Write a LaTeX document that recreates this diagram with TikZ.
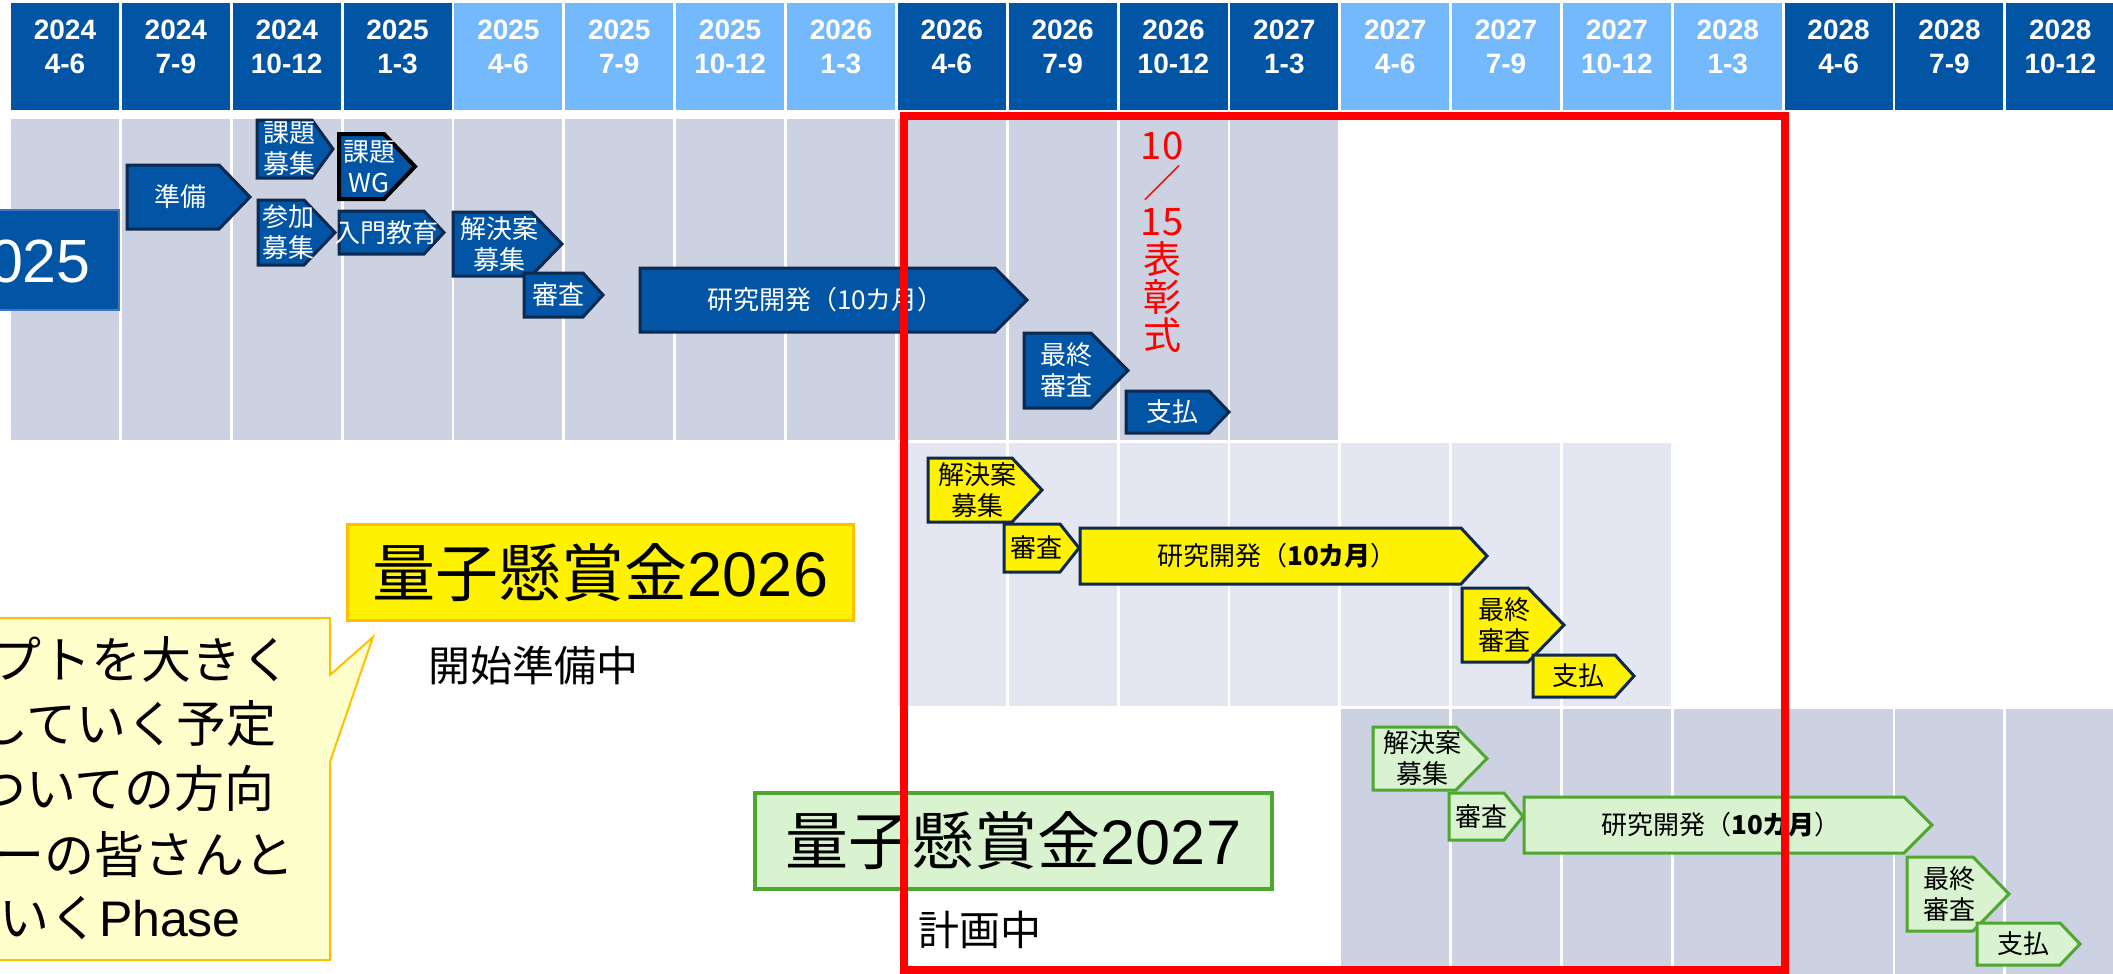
\documentclass[tikz,border=0pt]{standalone}
\usepackage{fontspec}
\setmainfont{Liberation Sans}
\newfontfamily\jp{Noto Sans CJK JP}
\definecolor{hdark}{RGB}{2,84,164}
\definecolor{hlight}{RGB}{117,185,253}
\definecolor{rowa}{RGB}{204,210,226}
\definecolor{rowb}{RGB}{228,231,241}
\definecolor{navy}{RGB}{14,40,78}
\definecolor{grnfill}{RGB}{217,242,208}
\definecolor{grnline}{RGB}{78,167,46}
\definecolor{orng}{RGB}{255,192,0}
\definecolor{callfill}{RGB}{255,255,204}
\definecolor{boxedge}{RGB}{68,114,196}
\tikzset{
  blu/.style={fill=hdark, draw=navy, line width=3pt},
  blutxt/.style={text=white, font=\jp\fontsize{26}{31}\selectfont, align=center, inner sep=0pt},
  wgb/.style={fill=hdark, draw=black, line width=4pt},
  wgbtxt/.style={blutxt},
  yel/.style={fill=yellow, draw=navy, line width=3pt},
  yeltxt/.style={text=black, font=\jp\fontsize{26}{31}\selectfont, align=center, inner sep=0pt},
  grn/.style={fill=grnfill, draw=grnline, line width=3pt},
  grntxt/.style={yeltxt},
  hdr/.style={text=white, font=\bfseries\fontsize{28}{34}\selectfont, align=center, inner sep=0pt},
  calltxt/.style={anchor=east, inner sep=0pt, text height=43pt, text depth=6pt, font=\jp\fontsize{50}{63}\selectfont},
  plain/.style={inner sep=0pt, text=black},
}
\newcommand\pent[8]{%
  \draw[#1] (#3,#4) -- (#5,#4) -- (#6,{(#4+#7)/2}) -- (#5,#7) -- (#3,#7) -- cycle;
  \node[#1txt] (#2) at ({(#3+#5)/2+(#6-#5)/4},{(#4+#7)/2}) {#8};
}
\begin{document}
\begin{tikzpicture}[x=1pt,y=-1pt]
\useasboundingbox (0,0) rectangle (2113,974);
\clip (0,0) rectangle (2113,974);
\fill[white] (0,0) rectangle (2113,974);
% header
\foreach \yr/\qt [count=\n from 0] in {2024/4-6,2024/7-9,2024/10-12,2025/1-3,2025/4-6,2025/7-9,2025/10-12,2026/1-3,2026/4-6,2026/7-9,2026/10-12,2027/1-3,2027/4-6,2027/7-9,2027/10-12,2028/1-3,2028/4-6,2028/7-9,2028/10-12}{
  \pgfmathtruncatemacro\g{floor(\n/4)}
  \ifodd\g \def\hc{hlight}\else\def\hc{hdark}\fi
  \fill[\hc] ({11+110.85*\n},3) rectangle ({119+110.85*\n},110);
  \node[hdr] (h\n) at ({65+110.85*\n},47) {\yr\\\qt};
}
% rows
\foreach \i in {0,...,11}{\fill[rowa] ({11+110.85*\i},119) rectangle ({119+110.85*\i},440);}
\foreach \i in {8,...,14}{\fill[rowb] ({11+110.85*\i},443) rectangle ({119+110.85*\i},706);}
\foreach \i in {12,...,18}{\fill[rowa] ({11+110.85*\i},709) rectangle ({119+110.85*\i},980);}
% 2025 box
\draw[fill=hdark, draw=boxedge, line width=1.5pt] (-60,210) rectangle (119,310);
\node[inner sep=0pt, text=white, font=\fontsize{61}{61}\selectfont, anchor=east] (p25) at (91,261) {2025};
% row 1
\pent{blu}{a1}{127}{165}{219}{250}{229}{準備}
\pent{blu}{a2}{257}{120}{312}{333}{178}{課題\\募集}
\pent{wgb}{a3}{339}{134}{384}{415}{199}{課題\\WG}
\pent{blu}{a4}{258}{200}{304}{335}{265}{参加\\募集}
\pent{blu}{a5}{339}{211}{424}{444}{254}{入門教育}
\pent{blu}{a6}{453}{212}{531}{562}{276}{解決案\\募集}
\pent{blu}{a7}{524}{273}{583}{603}{317}{審査}
\pent{blu}{a8}{640}{268}{995}{1027}{332}{研究開発（10カ月）}
\pent{blu}{a9}{1024}{333}{1091}{1128}{408}{最終\\審査}
\pent{blu}{a10}{1126}{391}{1209}{1229}{433}{支払}
\node[text=red, font=\jp\fontsize{38}{38}\selectfont, align=center, inner sep=0pt] (award) at (1162,242) {10\\／\\15\\表\\彰\\式};
% row 2
\pent{yel}{b1}{928}{458}{1012}{1042}{522}{解決案\\募集}
\pent{yel}{b2}{1004}{524}{1060}{1079}{572}{審査}
\pent{yel}{b3}{1080}{528}{1461}{1487}{584}{研究開発（\textbf{10カ月}）}
\pent{yel}{b4}{1462}{588}{1528}{1564}{662}{最終\\審査}
\pent{yel}{b5}{1533}{655}{1615}{1634}{697}{支払}
% row 3
\pent{grn}{c1}{1373}{727}{1456}{1487}{790}{解決案\\募集}
\pent{grn}{c2}{1449}{793}{1504}{1523}{840}{審査}
\pent{grn}{c3}{1524}{797}{1904}{1932}{853}{研究開発（\textbf{10カ月}）}
\pent{grn}{c4}{1907}{857}{1973}{2009}{931}{最終\\審査}
\pent{grn}{c5}{1977}{923}{2060}{2080}{965}{支払}
% labels
\node[draw=orng, fill=yellow, line width=3pt, minimum width=506pt, minimum height=96pt, inner sep=0pt, font=\fontsize{63}{63}\selectfont] (lab26) at (600.5,572.5) {{\jp 量子懸賞金}2026};
\node[plain, font=\jp\fontsize{42}{42}\selectfont] (st26) at (533,665) {開始準備中};
\node[draw=grnline, fill=grnfill, line width=4pt, minimum width=517pt, minimum height=96pt, inner sep=0pt, font=\fontsize{63}{63}\selectfont] (lab27) at (1013.5,841) {{\jp 量子懸賞金}2027\hspace{30pt}};
\node[plain, font=\jp\fontsize{41}{41}\selectfont] (st27) at (980,930) {計画中};
% callout
\draw[fill=callfill, draw=orng, line width=2pt] (-20,618) -- (330,618) -- (330,675) -- (373,637) -- (330,762) -- (330,960) -- (-20,960) -- cycle;
\node[calltxt] (l1) at (292,660) {プトを大きく};
\node[calltxt] (l2) at (277,724) {していく予定};
\node[calltxt] (l3) at (275,789) {ついての方向};
\node[calltxt] (l4) at (295,855) {ーの皆さんと};
\node[calltxt] (l5) at (241,918) {いく{\fontspec{Liberation Sans}Phase}};
% red frame
\draw[red, line width=8pt] (904,116) rectangle (1785,970);
\end{tikzpicture}
\end{document}
